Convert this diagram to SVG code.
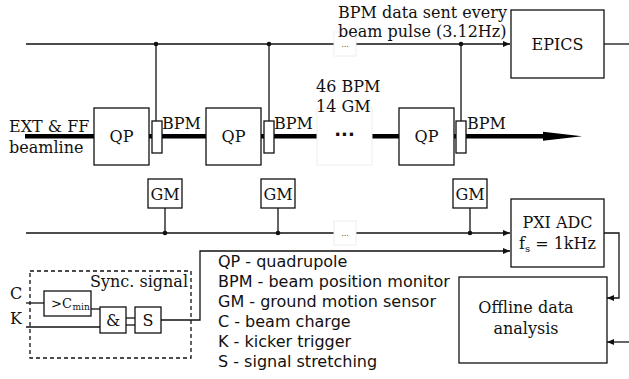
<svg xmlns="http://www.w3.org/2000/svg" width="629" height="379" viewBox="0 0 629 379">
<style>
.s{font-family:"DejaVu Serif","Liberation Serif",serif;font-size:16px;fill:#111}
.l{font-family:"DejaVu Sans","Liberation Sans",sans-serif;font-size:16px;fill:#111}
.b{fill:#fff;stroke:#111;stroke-width:1.3}
.w{fill:none;stroke:#111;stroke-width:1.3}
.f{fill:#fff;stroke:#eee;stroke-width:1}
.d{font-family:"DejaVu Sans",sans-serif;font-size:8px;fill:#444}
</style>
<defs>
<marker id="ah" markerWidth="8" markerHeight="8" refX="7" refY="4" orient="auto" markerUnits="userSpaceOnUse">
<path d="M0,1 L7,4 L0,7 Z" fill="#111"/>
</marker>
</defs>
<g id="connectors">
<line class="w" x1="26" y1="44" x2="510" y2="44" marker-end="url(#ah)"/>
<line class="w" x1="604" y1="44" x2="629" y2="44"/>
<line class="w" x1="156" y1="44" x2="156" y2="121"/>
<line class="w" x1="269" y1="44" x2="269" y2="121"/>
<line class="w" x1="461" y1="44" x2="461" y2="121"/>
<circle cx="156" cy="44" r="2.3" fill="#111"/>
<circle cx="269" cy="44" r="2.3" fill="#111"/>
<circle cx="461" cy="44" r="2.3" fill="#111"/>
<line x1="25" y1="136.3" x2="544" y2="136.3" stroke="#000" stroke-width="4.5"/>
<polygon points="543,131.8 582,136.3 543,140.8" fill="#000"/>
<line class="w" x1="26" y1="233" x2="510" y2="233" marker-end="url(#ah)"/>
<line class="w" x1="165" y1="208" x2="165" y2="233"/>
<line class="w" x1="278" y1="208" x2="278" y2="233"/>
<line class="w" x1="470" y1="208" x2="470" y2="233"/>
<circle cx="165" cy="233" r="2.3" fill="#111"/>
<circle cx="278" cy="233" r="2.3" fill="#111"/>
<circle cx="470" cy="233" r="2.3" fill="#111"/>
<polyline class="w" points="161,320 200,320 200,251 510,251" marker-end="url(#ah)"/>
<polyline class="w" points="604,233 619,233 619,298 607,298" marker-end="url(#ah)"/>
<line class="w" x1="629" y1="342" x2="607" y2="342" marker-end="url(#ah)"/>
<line class="w" x1="26" y1="303" x2="44" y2="303"/>
<line class="w" x1="26" y1="327" x2="100" y2="327"/>
<line class="w" x1="91" y1="309" x2="100" y2="309"/>
<line class="w" x1="126" y1="318" x2="135" y2="318"/>
<line class="w" x1="126" y1="325" x2="135" y2="325"/>
</g>
<g id="dots-top"><rect class="f" x="334" y="32" width="22" height="24"/><text class="d" x="345" y="47" text-anchor="middle">...</text></g>
<g id="dots-bottom"><rect class="f" x="334" y="221" width="22" height="24"/><text class="d" x="345" y="236" text-anchor="middle">...</text></g>
<g id="dots-beam"><rect class="f" x="317" y="108" width="55" height="57"/><text x="344.5" y="141" text-anchor="middle" font-family="DejaVu Sans,sans-serif" font-size="18" font-weight="bold" fill="#111">···</text></g>
<g id="qp1"><rect class="b" x="94" y="108" width="55" height="57"/><text class="s" x="121.5" y="142" text-anchor="middle">QP</text></g>
<g id="qp2"><rect class="b" x="206" y="108" width="55" height="57"/><text class="s" x="233.5" y="142" text-anchor="middle">QP</text></g>
<g id="qp3"><rect class="b" x="399" y="108" width="55" height="57"/><text class="s" x="426.5" y="142" text-anchor="middle">QP</text></g>
<g id="bpm1"><rect class="b" x="152" y="121" width="10" height="32"/><text class="s" x="162" y="129">BPM</text></g>
<g id="bpm2"><rect class="b" x="264" y="121" width="10" height="32"/><text class="s" x="274" y="129">BPM</text></g>
<g id="bpm3"><rect class="b" x="456" y="121" width="10" height="32"/><text class="s" x="467" y="129">BPM</text></g>
<g id="gm1"><rect class="b" x="148" y="179" width="34" height="29"/><text class="s" x="165" y="200" text-anchor="middle">GM</text></g>
<g id="gm2"><rect class="b" x="261" y="179" width="34" height="29"/><text class="s" x="278" y="200" text-anchor="middle">GM</text></g>
<g id="gm3"><rect class="b" x="453" y="179" width="34" height="29"/><text class="s" x="470" y="200" text-anchor="middle">GM</text></g>
<g id="epics"><rect class="b" x="511" y="10" width="93" height="68"/><text class="s" x="557.5" y="50" text-anchor="middle">EPICS</text></g>
<g id="pxi"><rect class="b" x="511" y="199" width="93" height="68"/><text class="s" x="557.5" y="228" text-anchor="middle">PXI ADC</text><text class="s" x="557.5" y="249" text-anchor="middle">f<tspan style="font-size:10px" dy="3">s</tspan><tspan dy="-3"> = 1kHz</tspan></text></g>
<g id="offline"><rect class="b" x="459" y="277" width="148" height="86"/><text class="s" x="526" y="313" text-anchor="middle">Offline data</text><text class="s" x="526" y="334" text-anchor="middle">analysis</text></g>
<g id="labels">
<text class="s" x="9" y="132">EXT &amp; FF</text>
<text class="s" x="9" y="153">beamline</text>
<text class="s" x="338" y="18">BPM data sent every</text>
<text class="s" x="338" y="37">beam pulse (3.12Hz)</text>
<text class="s" x="316" y="92">46 BPM</text>
<text class="s" x="316" y="112">14 GM</text>
</g>
<g id="sync">
<rect x="30" y="271" width="161" height="87" fill="none" stroke="#111" stroke-width="1.3" stroke-dasharray="4,3"/>
<text class="s" x="188" y="287" text-anchor="end">Sync. signal</text>
<text class="s" x="10" y="299">C</text>
<text class="s" x="10" y="324">K</text>
</g>
<g id="cmin"><rect class="b" x="44" y="291" width="47" height="25"/><text class="s" x="51" y="308" style="font-size:13px">&gt;C</text><text class="s" x="72.5" y="310" style="font-size:9px">min</text></g>
<g id="and"><rect class="b" x="100" y="307" width="26" height="26"/><text class="s" x="113" y="326" text-anchor="middle">&amp;</text></g>
<g id="stretch"><rect class="b" x="135" y="307" width="26" height="26"/><text class="s" x="148" y="326" text-anchor="middle">S</text></g>
<g id="legend">
<text class="l" x="218" y="267">QP - quadrupole</text>
<text class="l" x="218" y="287">BPM - beam position monitor</text>
<text class="l" x="218" y="307">GM - ground motion sensor</text>
<text class="l" x="218" y="327">C - beam charge</text>
<text class="l" x="218" y="347">K - kicker trigger</text>
<text class="l" x="218" y="367">S - signal stretching</text>
</g>
</svg>
